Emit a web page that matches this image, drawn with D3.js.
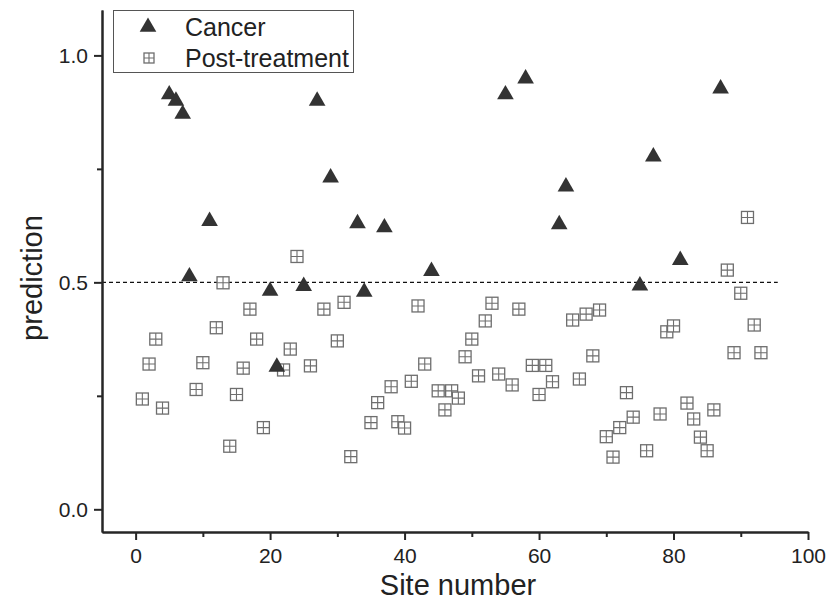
<!DOCTYPE html>
<html>
<head>
<meta charset="utf-8">
<script src="https://cdn.jsdelivr.net/npm/d3@7"></script>
<style>
  body { margin: 0; background: #fff; }
  text { font-family: "Liberation Sans", Arial, sans-serif; }
</style>
</head>
<body>
<svg id="svg" width="827" height="604"></svg>
<script>
// data
const cancerSites = [5, 6, 7, 8, 11, 20, 21, 25, 27, 29, 33, 34, 37, 44, 55, 58, 63, 64, 75, 77, 81, 87];
const cancerPred = [0.916, 0.902, 0.873, 0.515, 0.637, 0.483, 0.316, 0.494, 0.902, 0.733, 0.632, 0.481,
  0.623, 0.527, 0.916, 0.951, 0.630, 0.713, 0.495, 0.779, 0.551, 0.929];

const postSites = [1, 2, 3, 4, 9, 10, 12, 13, 14, 15, 16, 17, 18, 19, 22, 23, 24, 26, 28, 30, 31, 32,
  35, 36, 38, 39, 40, 41, 42, 43, 45, 46, 47, 48, 49, 50, 51, 52, 53, 54, 56, 57, 59, 60, 61, 62,
  65, 66, 67, 68, 69, 70, 71, 72, 73, 74, 76, 78, 79, 80, 82, 83, 84, 85, 86, 88, 89, 90, 91, 92, 93];
const postPred = [0.243, 0.320, 0.375, 0.223, 0.264, 0.323, 0.400, 0.499, 0.139, 0.253, 0.311, 0.441,
  0.375, 0.180, 0.307, 0.353, 0.557, 0.316, 0.441, 0.371, 0.456, 0.116,
  0.191, 0.235, 0.270, 0.193, 0.179, 0.282, 0.448, 0.320, 0.261, 0.219, 0.261, 0.245, 0.336, 0.375,
  0.294, 0.415, 0.454, 0.298, 0.274, 0.441, 0.317, 0.253, 0.317, 0.281,
  0.417, 0.287, 0.430, 0.338, 0.439, 0.160, 0.115, 0.180, 0.257, 0.203, 0.129, 0.210, 0.391, 0.404,
  0.234, 0.199, 0.159, 0.129, 0.219, 0.527, 0.345, 0.476, 0.643, 0.406, 0.345];

const threshold = 0.5;
const xMajor = [0, 20, 40, 60, 80, 100];
const xMinor = [10, 30, 50, 70, 90];
const yMajor = [0, 0.5, 1.0];
const yMinor = [0.25, 0.75];
const seriesNames = ["Cancer", "Post-treatment"];

const svg = d3.select("#svg");
const axisColor = "#262626";

const x = d3.scaleLinear().domain([-5, 100]).range([102, 808]);
const y = d3.scaleLinear().domain([-0.05, 1.1]).range([532, 10]);

// threshold line
svg.append("line")
  .attr("x1", x(-5)).attr("x2", x(95.5))
  .attr("y1", y(threshold)).attr("y2", y(threshold))
  .attr("stroke", "#111").attr("stroke-width", 1.3)
  .attr("stroke-dasharray", "4,3");

// axes
function styleAxis(g) {
  g.select(".domain").attr("stroke", axisColor).attr("stroke-width", 2);
  g.selectAll(".tick line").attr("stroke", axisColor).attr("stroke-width", 2);
  g.selectAll(".tick text").attr("fill", "#222").style("font-size", "21px");
}

svg.append("g")
  .attr("transform", `translate(0, ${y(-0.05)})`)
  .call(d3.axisBottom(x).tickValues(xMinor).tickSize(5).tickSizeOuter(0).tickFormat(""))
  .call(styleAxis);
svg.append("g")
  .attr("transform", `translate(0, ${y(-0.05)})`)
  .call(d3.axisBottom(x).tickValues(xMajor).tickSize(8).tickSizeOuter(0).tickPadding(8).tickFormat(d3.format("d")))
  .call(styleAxis);

svg.append("g")
  .attr("transform", `translate(${x(-5)}, 0)`)
  .call(d3.axisLeft(y).tickValues(yMinor).tickSize(5).tickSizeOuter(0).tickFormat(""))
  .call(styleAxis);
svg.append("g")
  .attr("transform", `translate(${x(-5)}, 0)`)
  .call(d3.axisLeft(y).tickValues(yMajor).tickSize(8).tickSizeOuter(0).tickPadding(6).tickFormat(d3.format(".1f")))
  .call(styleAxis);

// axis titles
svg.append("text")
  .attr("x", 458).attr("y", 595)
  .attr("text-anchor", "middle")
  .style("font-size", "29px").attr("fill", "#222")
  .text("Site number");
svg.append("text")
  .attr("transform", `translate(42, ${278}) rotate(-90)`)
  .attr("text-anchor", "middle")
  .style("font-size", "29px").attr("fill", "#222")
  .text("prediction");

// markers
const tri = d3.symbol().type(d3.symbolTriangle).size(120);

function drawSquare(g, cx, cy, s) {
  g.append("rect")
    .attr("x", cx - s / 2).attr("y", cy - s / 2)
    .attr("width", s).attr("height", s)
    .attr("fill", "#fff").attr("stroke", "#6e6e6e").attr("stroke-width", 1.3);
  g.append("path")
    .attr("d", `M${cx - s / 2},${cy}H${cx + s / 2}M${cx},${cy - s / 2}V${cy + s / 2}`)
    .attr("stroke", "#6e6e6e").attr("stroke-width", 1.1);
}

const post = svg.append("g");
postSites.forEach((s, i) => drawSquare(post, x(s), y(postPred[i]), 12));

svg.append("g")
  .selectAll("path")
  .data(cancerSites)
  .join("path")
  .attr("d", tri)
  .attr("transform", (d, i) => `translate(${x(d)}, ${y(cancerPred[i]) + 1})`)
  .attr("fill", "#333");

// legend
const lg = svg.append("g");
lg.append("rect")
  .attr("x", 113.5).attr("y", 10.5).attr("width", 240).attr("height", 62)
  .attr("fill", "#fff").attr("stroke", "#555").attr("stroke-width", 1);
lg.append("path").attr("d", tri).attr("transform", "translate(148, 27)").attr("fill", "#333");
drawSquare(lg, 149, 58, 10);
lg.append("text").attr("x", 185).attr("y", 36).style("font-size", "25px").attr("fill", "#222").text(seriesNames[0]);
lg.append("text").attr("x", 185).attr("y", 67).style("font-size", "25px").attr("fill", "#222").text(seriesNames[1]);
</script>
</body>
</html>
